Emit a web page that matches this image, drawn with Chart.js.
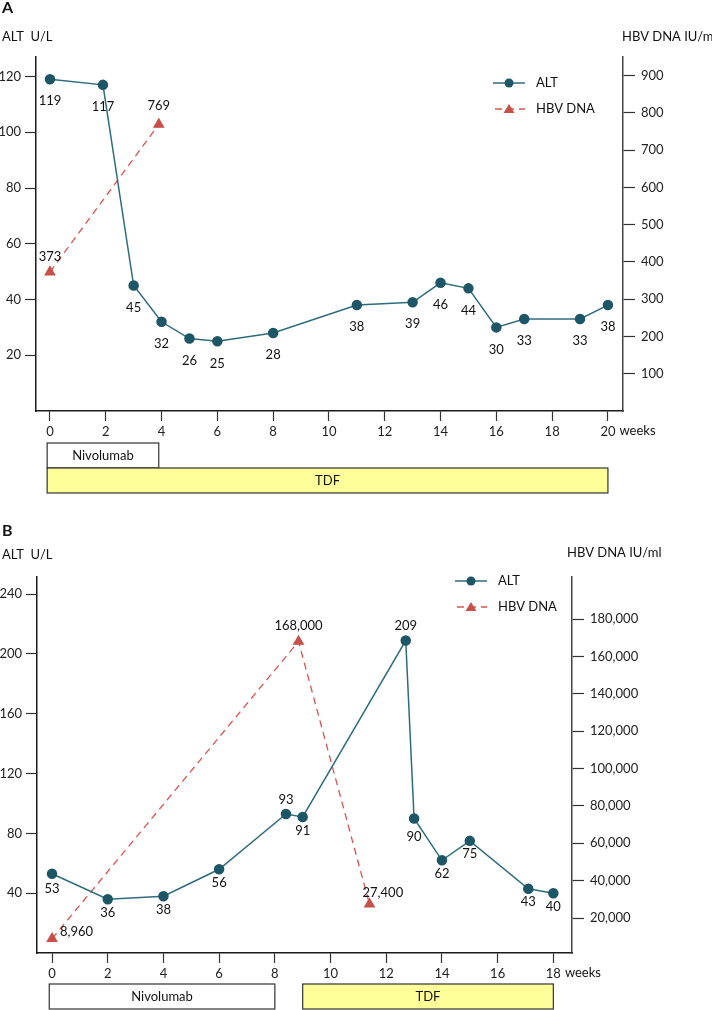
<!DOCTYPE html>
<html>
<head>
<meta charset="utf-8">
<script src="https://cdn.jsdelivr.net/npm/chart.js@4/dist/chart.umd.min.js"></script>
<style>
  body { margin: 0; background: #fff; }
  canvas { display: block; }
</style>
</head>
<body>
<canvas id="chartA" width="712" height="500"></canvas>
<canvas id="chartB" width="712" height="510"></canvas>
<script>
// ---- Panel A data ----
const altWeeksA = [0, 1.9, 3, 4, 5, 6, 8, 11, 13, 14, 15, 16, 17, 19, 20];
const altValuesA = [119, 117, 45, 32, 26, 25, 28, 38, 39, 46, 44, 30, 33, 33, 38];
const hbvWeeksA = [0, 3.9];
const hbvValuesA = [373, 769];
const weekTicksA = [0, 2, 4, 6, 8, 10, 12, 14, 16, 18, 20];
const altTicksA = [20, 40, 60, 80, 100, 120];
const hbvTicksA = [100, 200, 300, 400, 500, 600, 700, 800, 900];
const drugNamesA = ['Nivolumab', 'TDF'];
const drugStartA = [-0.1, -0.1];
const drugEndA = [3.9, 20];

// ---- Panel B data ----
const altWeeksB = [0, 2, 4, 6, 8.4, 9, 12.7, 13, 14, 15, 17.1, 18];
const altValuesB = [53, 36, 38, 56, 93, 91, 209, 90, 62, 75, 43, 40];
const hbvWeeksB = [0, 8.85, 11.4];
const hbvValuesB = [8960, 168000, 27400];
const weekTicksB = [0, 2, 4, 6, 8, 10, 12, 14, 16, 18];
const altTicksB = [40, 80, 120, 160, 200, 240];
const hbvTicksB = [20000, 40000, 60000, 80000, 100000, 120000, 140000, 160000, 180000];
const drugNamesB = ['Nivolumab', 'TDF'];
const drugStartB = [-0.1, 9];
const drugEndB = [8, 18];

// label placement [dx, dy, align]
const altLabelPosA = altValuesA.map(() => [0, 22, 'center']);
const hbvLabelPosA = [[0, -15, 'center'], [0, -19, 'center']];
const altLabelPosB = [[0, 15, 'center'], [0, 14, 'center'], [0, 14, 'center'], [0, 14, 'center'],
  [0, -14, 'center'], [0, 14, 'center'], [0, -15, 'center'], [0, 18, 'center'],
  [0, 14, 'center'], [0, 13, 'center'], [0, 13, 'center'], [0, 14, 'center']];
const hbvLabelPosB = [[8, -7, 'left'], [0, -16, 'center'], [-7, -11, 'left']];

const ALT_LINE = '#2e6b7b';
const ALT_DOT = '#1d5666';
const HBV_LINE = '#d9534f';
const HBV_DOT = '#c8504b';
const FONT = 'Lato';
const ROW_H = 25;

const fmt = v => v.toLocaleString('en-US');
const pts = (xs, ys) => xs.map((x, i) => ({ x: x, y: ys[i] }));

function axisY(position, min, max, tickVals, width, tickLen, pad, borderColor) {
  return {
    type: 'linear', position: position, min: min, max: max,
    afterBuildTicks: s => { s.ticks = tickVals.map(v => ({ value: v })); },
    afterFit: s => { s.width = width; },
    grid: { drawOnChartArea: false, tickLength: tickLen, tickColor: '#333', tickWidth: 1.2 },
    border: { display: true, color: borderColor, width: 1.5 },
    ticks: { color: '#222', padding: pad, font: { family: FONT, size: 13 }, callback: v => fmt(v) }
  };
}

function decor(cfg) {
  return {
    id: 'decor',
    afterDraw(chart) {
      const ctx = chart.ctx;
      const xs = chart.scales.x;
      const area = chart.chartArea;
      ctx.save();
      ctx.fillStyle = '#111';
      ctx.textBaseline = 'middle';

      // panel letter and axis titles
      ctx.textAlign = 'left';
      ctx.font = 'bold 16px ' + FONT;
      ctx.fillText(cfg.letter, 2, cfg.letterY);
      ctx.font = '13px ' + FONT;
      ctx.fillText('ALT  U/L', 2, cfg.titleY);
      ctx.fillText('HBV DNA IU/ml', cfg.rightTitleX, cfg.rightTitleY);

      // "weeks" after last tick
      const last = cfg.weekTicks[cfg.weekTicks.length - 1];
      const lw = ctx.measureText(String(last)).width;
      ctx.fillText('weeks', xs.getPixelForValue(last) + lw / 2 + 4, area.bottom + 20);

      // value labels
      chart.data.datasets.forEach((ds, di) => {
        const meta = chart.getDatasetMeta(di);
        meta.data.forEach((el, i) => {
          const p = ds.labelPos[i];
          ctx.textAlign = p[2];
          ctx.fillText(fmt(ds.data[i].y), el.x + p[0], el.y + p[1]);
        });
      });

      // treatment bars
      cfg.drugs.forEach((name, i) => {
        const x0 = xs.getPixelForValue(cfg.start[i]);
        const x1 = xs.getPixelForValue(cfg.end[i]);
        const y0 = area.bottom + cfg.barGap + cfg.rows[i] * ROW_H;
        ctx.fillStyle = cfg.fills[i];
        ctx.fillRect(x0, y0, x1 - x0, ROW_H);
        ctx.strokeStyle = '#333';
        ctx.lineWidth = 1.2;
        ctx.strokeRect(x0, y0, x1 - x0, ROW_H);
        ctx.fillStyle = '#111';
        ctx.textAlign = 'center';
        ctx.fillText(name, (x0 + x1) / 2, y0 + ROW_H / 2);
      });

      // legend
      const lx0 = cfg.legendX, lx1 = cfg.legendX + 32, mx = (lx0 + lx1) / 2;
      let ly = cfg.legendY;
      ctx.setLineDash([]);
      ctx.strokeStyle = ALT_LINE; ctx.lineWidth = 1.5;
      ctx.beginPath(); ctx.moveTo(lx0, ly); ctx.lineTo(lx1, ly); ctx.stroke();
      ctx.fillStyle = ALT_DOT;
      ctx.beginPath(); ctx.arc(mx, ly, 4.5, 0, Math.PI * 2); ctx.fill();
      ctx.fillStyle = '#111'; ctx.textAlign = 'left';
      ctx.fillText('ALT', lx1 + 11, ly);
      ly += 26;
      ctx.strokeStyle = HBV_LINE; ctx.lineWidth = 1.3;
      ctx.setLineDash([7, 5]);
      ctx.beginPath(); ctx.moveTo(lx0 + 2, ly); ctx.lineTo(lx1, ly); ctx.stroke();
      ctx.setLineDash([]);
      ctx.fillStyle = HBV_DOT;
      ctx.beginPath(); ctx.moveTo(mx, ly - 5); ctx.lineTo(mx + 5.5, ly + 4); ctx.lineTo(mx - 5.5, ly + 4); ctx.closePath(); ctx.fill();
      ctx.fillStyle = '#111';
      ctx.fillText('HBV DNA', lx1 + 11, ly);
      ctx.restore();
    }
  };
}

function makeChart(id, d) {
  return new Chart(document.getElementById(id), {
    type: 'line',
    data: {
      datasets: [
        {
          label: 'ALT', yAxisID: 'y', data: pts(d.altWeeks, d.altValues), labelPos: d.altLabelPos,
          borderColor: ALT_LINE, borderWidth: 1.5, pointStyle: 'circle', pointRadius: 4.5,
          pointBackgroundColor: ALT_DOT, pointBorderColor: ALT_DOT, tension: 0, clip: false
        },
        {
          label: 'HBV DNA', yAxisID: 'y1', data: pts(d.hbvWeeks, d.hbvValues), labelPos: d.hbvLabelPos,
          borderColor: HBV_LINE, borderWidth: 1.3, borderDash: [7, 5], pointStyle: 'triangle', pointRadius: 5.5,
          pointBackgroundColor: HBV_DOT, pointBorderColor: HBV_DOT, tension: 0, clip: false
        }
      ]
    },
    options: {
      responsive: false, animation: false,
      layout: { padding: d.padding },
      plugins: { legend: { display: false }, tooltip: { enabled: false } },
      scales: {
        x: {
          type: 'linear', min: d.xMin, max: d.xMax,
          afterBuildTicks: s => { s.ticks = d.weekTicks.map(v => ({ value: v })); },
          afterFit: s => { s.height = 30; },
          grid: { drawOnChartArea: false, tickLength: 10, tickColor: '#333', tickWidth: 1.2 },
          border: { display: true, color: '#1a1a1a', width: 1.5 },
          ticks: { color: '#222', padding: 3, maxRotation: 0, autoSkip: false, font: { family: FONT, size: 13 } }
        },
        y: axisY('left', d.yMin, d.yMax, d.altTicks, d.leftW, 11, 4, '#1a1a1a'),
        y1: axisY('right', d.y1Min, d.y1Max, d.hbvTicks, d.rightW, 12, 6, '#444')
      }
    },
    plugins: [decor(d.decor)]
  });
}

makeChart('chartA', {
  altWeeks: altWeeksA, altValues: altValuesA, hbvWeeks: hbvWeeksA, hbvValues: hbvValuesA,
  altLabelPos: altLabelPosA, hbvLabelPos: hbvLabelPosA,
  weekTicks: weekTicksA, altTicks: altTicksA, hbvTicks: hbvTicksA,
  xMin: -0.5, xMax: 20.54, yMin: 0, yMax: 127, y1Min: 0, y1Max: 950,
  leftW: 36, rightW: 89,
  padding: { top: 57, left: 0, right: 0, bottom: 59 },
  decor: {
    letter: 'A', letterY: 8, titleY: 37, rightTitleX: 622, rightTitleY: 37,
    weekTicks: weekTicksA, legendX: 493, legendY: 83,
    drugs: drugNamesA, start: drugStartA, end: drugEndA, rows: [0, 1],
    fills: ['#ffffff', '#ffff99'], barGap: 32
  }
});

makeChart('chartB', {
  altWeeks: altWeeksB, altValues: altValuesB, hbvWeeks: hbvWeeksB, hbvValues: hbvValuesB,
  altLabelPos: altLabelPosB, hbvLabelPos: hbvLabelPosB,
  weekTicks: weekTicksB, altTicks: altTicksB, hbvTicks: hbvTicksB,
  xMin: -0.54, xMax: 18.67, yMin: 0, yMax: 251.5, y1Min: 1300, y1Max: 202500,
  leftW: 37, rightW: 140,
  padding: { top: 77, left: 0, right: 0, bottom: 27 },
  decor: {
    letter: 'B', letterY: 31, titleY: 55, rightTitleX: 567, rightTitleY: 53,
    weekTicks: weekTicksB, legendX: 455, legendY: 81,
    drugs: drugNamesB, start: drugStartB, end: drugEndB, rows: [0, 0],
    fills: ['#ffffff', '#ffff99'], barGap: 31
  }
});
</script>
</body>
</html>
